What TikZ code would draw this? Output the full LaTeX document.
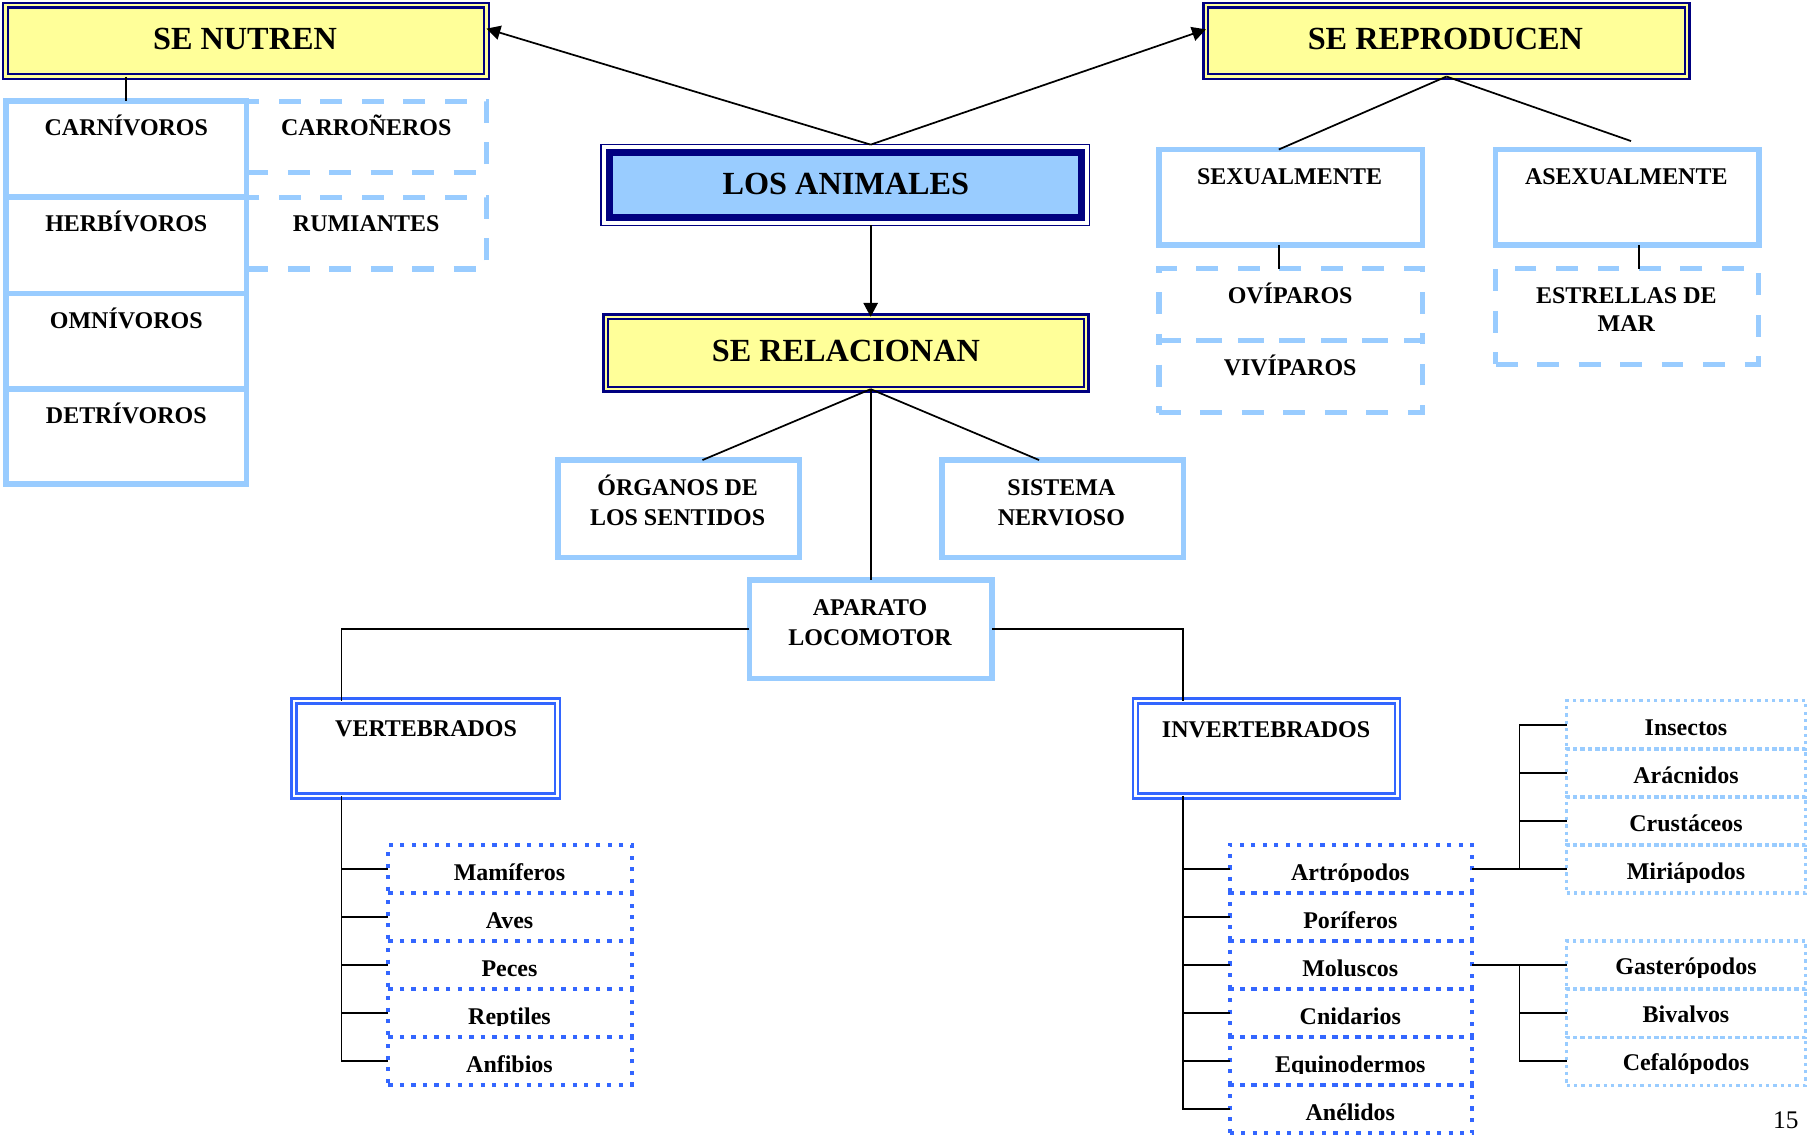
\documentclass[tikz,border=0pt]{standalone}
\usepackage{fontspec}
\setmainfont{Liberation Serif}
\usetikzlibrary{arrows.meta,calc}
\definecolor{navyb}{HTML}{000080}
\definecolor{ylw}{HTML}{FFFF99}
\definecolor{lblue}{HTML}{99CCFF}
\definecolor{rblue}{HTML}{3366FF}
\newcommand\rbox[6]{%
  \pgfmathsetmacro\rbW{(#4-#2)*0.5}%
  \pgfmathsetmacro\rbH{(#5-#3)*0.5}%
  \pgfmathsetmacro\rbX{(#2+#4)/2}%
  \pgfmathsetmacro\rbY{(#3+#5)/2}%
  \node[#1, minimum width=\rbW pt, minimum height=\rbH pt] (#6) at (\rbX,\rbY) {};}
\newcommand\itm[5]{%
  \begin{scope}\clip ({#3-105},{#4-40}) rectangle ({#3+100},{#4+#1});
  \node[st] (#2) at (#3,#4) {#5};\end{scope}}
\begin{document}
\begin{tikzpicture}[x=0.5pt,y=-0.5pt,
  conn/.style={draw=black, line width=0.75pt},
  arr/.style={conn, -{Triangle[length=6pt,width=6.2pt]}},
  ybox/.style={draw=navyb, line width=1pt, double=ylw, double distance=1pt, fill=ylw, inner sep=0pt, outer sep=0pt, rectangle},
  abox/.style={draw=navyb, line width=0.6pt, fill=white, inner sep=0pt, outer sep=0pt, rectangle},
  lbox/.style={draw=lblue, line width=2.4pt, inner sep=0pt, outer sep=0pt, rectangle},
  dashbox/.style={draw=lblue, line width=2.2pt, dash pattern=on 9.5pt off 8.5pt, inner sep=0pt, outer sep=0pt, rectangle},
  bbox/.style={draw=rblue, line width=1.1pt, double=white, double distance=1.1pt, inner sep=0pt, outer sep=0pt, rectangle},
  dotbox/.style={draw=rblue, line width=1.8pt, dash pattern=on 1.8pt off 3.2pt, inner sep=0pt, outer sep=0pt, rectangle},
  ldotbox/.style={draw=lblue, line width=1.45pt, dash pattern=on 1.45pt off 1.75pt, inner sep=0pt, outer sep=0pt, rectangle},
  st/.style={font=\fontsize{10.4}{12}\selectfont\bfseries, anchor=base, inner sep=0pt},
  ht/.style={font=\fontsize{14}{16}\selectfont\bfseries, anchor=base, inner sep=0pt},
]
% ---------- top headers ----------
\rbox{ybox}{4.7}{4.4}{422.1}{66.4}{senut}
\node[ht] (senutT) at (212.6,42.8) {SE NUTREN};
\rbox{ybox}{1046.4}{4.4}{1463.9}{66.4}{srep}
\node[ht] (srepT) at (1254.2,42.8) {SE REPRODUCEN};
\rbox{abox}{521.5}{125.5}{945.5}{195.5}{losan}
\draw[navyb, line width=3pt, fill=lblue] ([shift={(7,7)}]losan.north west) rectangle ([shift={(-7,-7)}]losan.south east);
\node[ht] (losanT) at (734,169.2) {LOS ANIMALES};
\rbox{ybox}{525.8}{274.9}{942.5}{337.7}{serel}
\node[ht] (serelT) at (734,313.3) {SE RELACIONAN};
% ---------- se nutren ----------
\rbox{lbox}{5.3}{87.8}{213.7}{171}{carn}
\rbox{lbox}{5.3}{171}{213.7}{254.5}{herb}
\rbox{lbox}{5.3}{254.5}{213.7}{337.7}{omni}
\rbox{lbox}{5.3}{337.7}{213.7}{420.2}{detr}
\rbox{dashbox}{213.7}{87.8}{422.2}{150}{carr}
\rbox{dashbox}{213.7}{171}{422.2}{233.4}{rumi}
\node[st] (carnT) at (109.6,118) {CARNÍVOROS};
\node[st] (herbT) at (109.6,201) {HERBÍVOROS};
\node[st] (omniT) at (109.6,284.9) {OMNÍVOROS};
\node[st] (detrT) at (109.6,367.9) {DETRÍVOROS};
\node[st] (carrT) at (317.8,118) {CARROÑEROS};
\node[st] (rumiT) at (317.8,201) {RUMIANTES};
% ---------- se reproducen ----------
\rbox{lbox}{1005.7}{129.7}{1234.2}{212.6}{sexu}
\rbox{lbox}{1297.8}{129.7}{1526.1}{212.6}{asex}
\rbox{dashbox}{1005.7}{233.2}{1234.2}{295.7}{ovi}
\rbox{dashbox}{1005.7}{295.7}{1234.2}{358}{vivi}
\rbox{dashbox}{1297.8}{233.2}{1526.1}{316}{estr}
\node[st] (sexuT) at (1119,159.7) {SEXUALMENTE};
\node[st] (asexT) at (1411.2,159.7) {ASEXUALMENTE};
\node[st] (oviT) at (1119.5,263.2) {OVÍPAROS};
\node[st] (viviT) at (1119.5,325.4) {VIVÍPAROS};
\node[st] (estrTa) at (1411.2,263.2) {ESTRELLAS DE};
\node[st] (estrTb) at (1411.2,287.8) {MAR};
% ---------- se relacionan ----------
\rbox{lbox}{484.2}{399.2}{693.8}{483.8}{organ}
\rbox{lbox}{817.2}{399.2}{1026.8}{483.8}{sist}
\rbox{lbox}{650.2}{503.2}{860.8}{588.8}{apar}
\node[st] (organTa) at (588,430.1) {ÓRGANOS DE};
\node[st] (organTb) at (588,455.6) {LOS SENTIDOS};
\node[st] (sistTa) at (921,430.1) {SISTEMA};
\node[st] (sistTb) at (921,455.6) {NERVIOSO};
\node[st] (aparTa) at (755,534.3) {APARATO};
\node[st] (aparTb) at (755,559.7) {LOCOMOTOR};
\rbox{bbox}{255.3}{608.3}{483.7}{690.7}{vert}
\rbox{bbox}{985.3}{608.3}{1212.7}{690.7}{invt}
\node[st] (vertT) at (369.7,639.2) {VERTEBRADOS};
\node[st] (invtT) at (1098.6,639.8) {INVERTEBRADOS};
% ---------- vertebrados ----------
\rbox{dotbox}{337}{733.2}{548.1}{774.9}{mam}
\rbox{dotbox}{337}{774.9}{548.1}{816.6}{aves}
\rbox{dotbox}{337}{816.6}{548.1}{858.3}{pece}
\rbox{dotbox}{337}{858.3}{548.1}{900}{rept}
\rbox{dotbox}{337}{900}{548.1}{941.7}{anfi}
\itm{1}{mamT}{442.1}{763.6}{Mamíferos}
\itm{1}{avesT}{442.1}{805.4}{Aves}
\itm{1}{peceT}{442.1}{847.1}{Peces}
\itm{1}{reptT}{442.1}{888.9}{Reptiles}
\itm{1}{anfiT}{442.1}{930.6}{Anfibios}
% ---------- invertebrados ----------
\rbox{dotbox}{1067}{733.2}{1277.3}{774.9}{artr}
\rbox{dotbox}{1067}{774.9}{1277.3}{816.6}{pori}
\rbox{dotbox}{1067}{816.6}{1277.3}{858.3}{molu}
\rbox{dotbox}{1067}{858.3}{1277.3}{900}{cnid}
\rbox{dotbox}{1067}{900}{1277.3}{941.7}{equi}
\rbox{dotbox}{1067}{941.7}{1277.3}{983.4}{aneli}
\itm{1}{artrT}{1171.7}{763.6}{Artrópodos}
\itm{1}{poriT}{1171.7}{805.3}{Poríferos}
\itm{1}{moluT}{1171.7}{847}{Moluscos}
\itm{1}{cnidT}{1171.7}{888.7}{Cnidarios}
\itm{1}{equiT}{1171.7}{930.4}{Equinodermos}
\itm{1}{aneliT}{1171.7}{972.1}{Anélidos}
\rbox{ldotbox}{1359.5}{608.1}{1566.8}{649.8}{ins}
\rbox{ldotbox}{1359.5}{649.8}{1566.8}{691.5}{ara}
\rbox{ldotbox}{1359.5}{691.5}{1566.8}{733.2}{cru}
\rbox{ldotbox}{1359.5}{733.2}{1566.8}{774.9}{mir}
\rbox{ldotbox}{1359.5}{816.6}{1566.8}{858.3}{gast}
\rbox{ldotbox}{1359.5}{858.3}{1566.8}{900}{biva}
\rbox{ldotbox}{1359.5}{900}{1566.8}{941.7}{cefa}
\itm{2.5}{insT}{1463}{637.8}{Insectos}
\itm{2.5}{araT}{1463}{679.5}{Arácnidos}
\itm{2.5}{cruT}{1463}{721.2}{Crustáceos}
\itm{2.5}{mirT}{1463}{763}{Miriápodos}
\itm{2.5}{gastT}{1463}{846}{Gasterópodos}
\itm{2.5}{bivaT}{1463}{887.6}{Bivalvos}
\itm{2.5}{cefaT}{1463}{929.2}{Cefalópodos}
% ---------- connectors ----------
\draw[arr] (apar.north |- losan.north) -- ($(senut.north east)!0.33!(senut.south east)$);
\draw[arr] (apar.north |- losan.north) -- ($(srep.north west)!0.34!(srep.south west)$);
\draw[arr] (apar.north |- losan.south) -- (apar.north |- serel.north);
\draw[conn] (carn.north |- senut.south) -- (carn.north);
\coordinate (asexEnd) at (1415.3,122.4);
\draw[conn] (srep.south) -- ($(sexu.north west)!0.455!(sexu.north east)$);
\draw[conn] (srep.south) -- (asexEnd);
\coordinate (sxd) at ($(sexu.south west)!0.455!(sexu.south east)$);
\draw[conn] (sxd) -- (sxd |- ovi.north);
\coordinate (asd) at ($(asex.south west)!0.545!(asex.south east)$);
\draw[conn] (asd) -- (asd |- estr.north);
\coordinate (relhub) at (apar.north |- serel.south);
\draw[conn] (relhub) -- ($(organ.north west)!0.598!(organ.north east)$);
\draw[conn] (relhub) -- ($(sist.north west)!0.403!(sist.north east)$);
\draw[conn] (relhub) -- (apar.north);
\draw[conn] (apar.west) -| ($(vert.north west)!0.18!(vert.north east)$);
\draw[conn] (apar.east) -| ($(invt.north west)!0.18!(invt.north east)$);
\coordinate (vb) at ($(vert.south west)!0.18!(vert.south east)$);
\draw[conn] (vb) |- (anfi.west);
\foreach \n in {mam,aves,pece,rept} \draw[conn] (vb |- \n.west) -- (\n.west);
\coordinate (ib) at ($(invt.south west)!0.18!(invt.south east)$);
\draw[conn] (ib) |- (aneli.west);
\foreach \n in {artr,pori,molu,cnid,equi} \draw[conn] (ib |- \n.west) -- (\n.west);
\draw[conn] (artr.east) -- (mir.west);
\coordinate (ah) at ($(artr.east)!0.5!(mir.west)$);
\draw[conn] (ah) |- (ins.west);
\foreach \n in {ara,cru} \draw[conn] (ah |- \n.west) -- (\n.west);
\draw[conn] (molu.east) -- (gast.west);
\coordinate (mh) at ($(molu.east)!0.5!(gast.west)$);
\draw[conn] (mh) |- (cefa.west);
\draw[conn] (mh |- biva.west) -- (biva.west);
% ---------- page number ----------
\node[font=\fontsize{11}{13}\selectfont, anchor=base, inner sep=0pt] (pg) at (1549.6,979) {15};
\pgfresetboundingbox
\useasboundingbox (0,0) rectangle (1568,986);
\end{tikzpicture}
\end{document}
